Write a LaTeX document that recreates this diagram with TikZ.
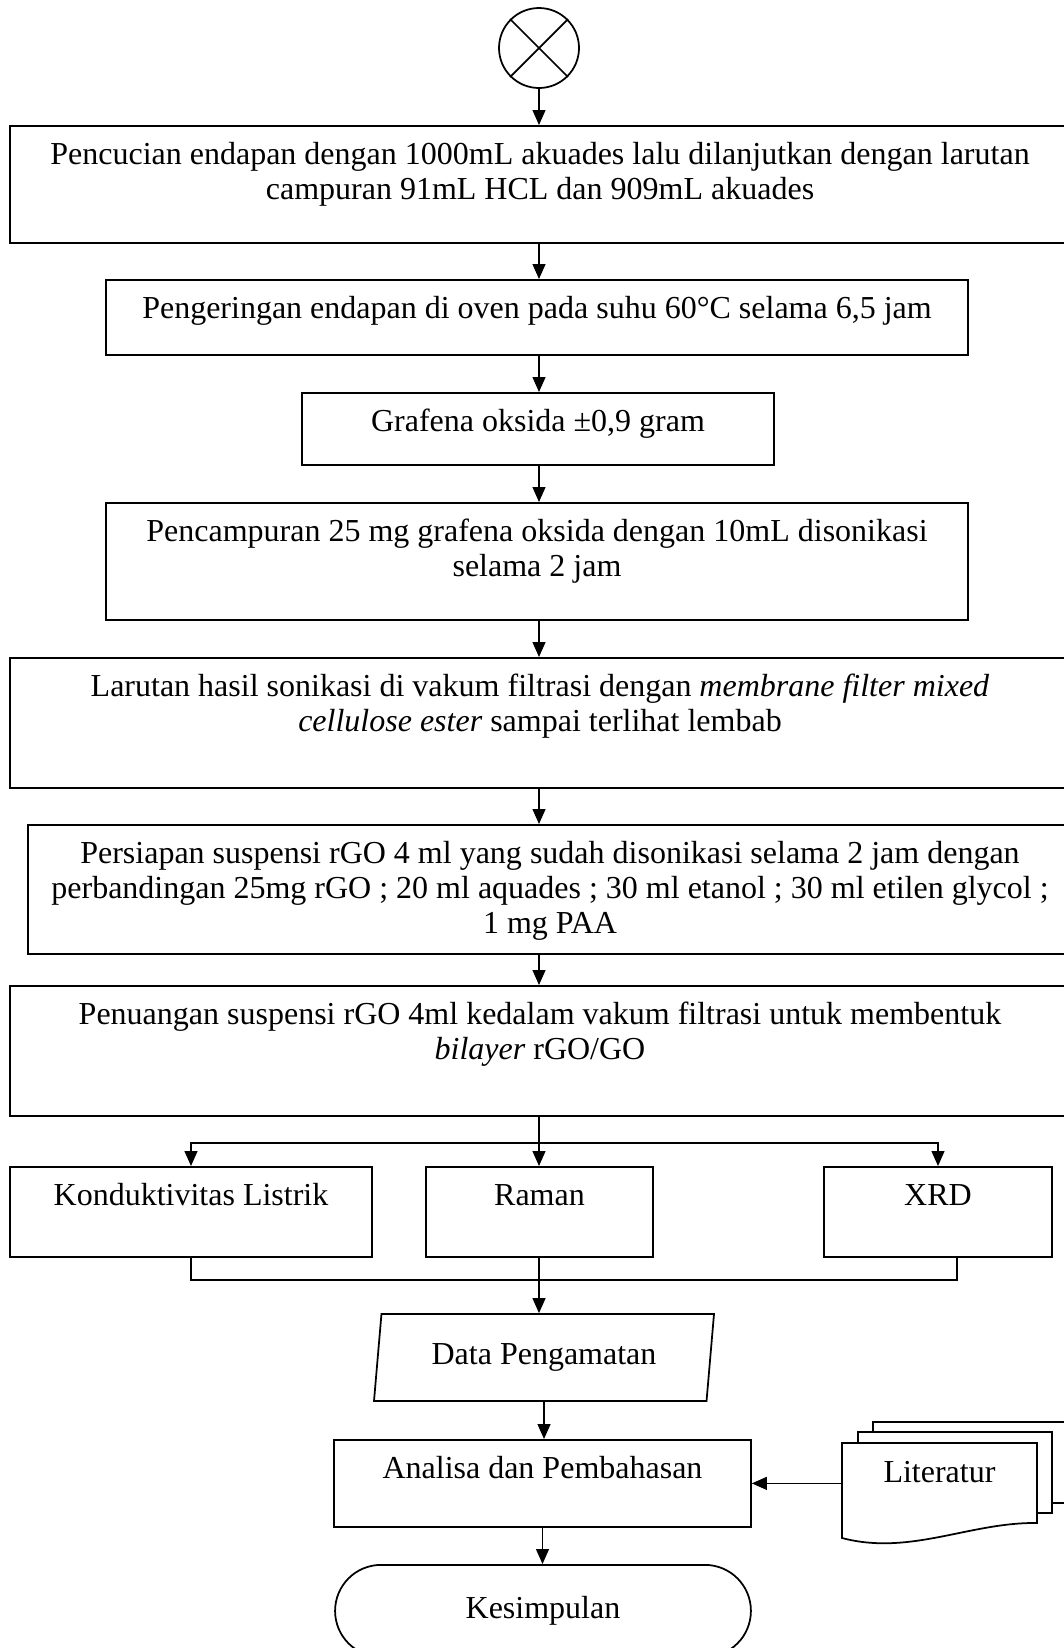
\documentclass[tikz,border=0pt]{standalone}
\usepackage{fontspec}
\setmainfont{Liberation Serif}
\usetikzlibrary{arrows.meta,shapes.geometric,shapes.misc}
\newdimen\unitpx \unitpx=0.4pt
\newcommand{\boxtext}[3]{\parbox[c][#2\unitpx][t]{#1\unitpx}{\centering\rule{0pt}{15.4pt}#3}}
\begin{document}
\begin{tikzpicture}[x=0.4pt,y=-0.4pt,line width=0.5pt,
	font=\fontsize{12.8}{14}\selectfont,
	stepbox/.style={draw,line width=0.7pt,inner sep=0pt,anchor=north},
	outline/.style={line width=0.7pt},
	>={Triangle[length=6pt,width=5.2pt]}]
	\useasboundingbox (0,0) rectangle (1064,1648);
	\node[draw,circle,outline,minimum size=32pt,inner sep=0pt] (start) at (539,48) {};
	\draw[outline] (start.north west) -- (start.south east);
	\draw[outline] (start.north east) -- (start.south west);
	\node[stepbox] (cuci) at (540,125) {\boxtext{1060}{117}{Pencucian endapan dengan 1000mL akuades lalu dilanjutkan dengan larutan\\campuran 91mL HCL dan 909mL akuades}};
	\node[stepbox] (kering) at (537,279) {\boxtext{862}{75}{Pengeringan endapan di oven pada suhu 60\textdegree C selama 6,5 jam}};
	\node[stepbox] (go) at (538,392) {\boxtext{472}{72}{Grafena oksida ±0,9 gram}};
	\node[stepbox] (campur) at (537,502) {\boxtext{862}{117}{Pencampuran 25 mg grafena oksida dengan 10mL disonikasi\\selama 2 jam}};
	\node[stepbox] (saring) at (540,657) {\boxtext{1060}{130}{Larutan hasil sonikasi di vakum filtrasi dengan \textit{membrane filter mixed}\\\textit{cellulose ester} sampai terlihat lembab}};
	\node[stepbox] (suspensi) at (550,824) {\boxtext{1044}{129}{Persiapan suspensi rGO 4 ml yang sudah disonikasi selama 2 jam dengan\\perbandingan 25mg rGO ; 20 ml aquades ; 30 ml etanol ; 30 ml etilen glycol ;\\1 mg PAA}};
	\node[stepbox] (tuang) at (540,985) {\boxtext{1060}{130}{Penuangan suspensi rGO 4ml kedalam vakum filtrasi untuk membentuk\\\textit{bilayer} rGO/GO}};
	\node[stepbox] (listrik) at (191,1166) {\boxtext{362}{90}{Konduktivitas Listrik}};
	\node[stepbox] (raman) at (539.5,1166) {\boxtext{227}{90}{Raman}};
	\node[stepbox] (xrd) at (938,1166) {\boxtext{228}{90}{XRD}};
	\node[draw,outline,trapezium,trapezium left angle=75,trapezium right angle=105,trapezium stretches body,minimum width=136pt,minimum height=34.8pt,inner sep=0pt] (data) at (544,1357.5) {Data Pengamatan};
	\node[stepbox] (analisa) at (542.5,1439) {\boxtext{417}{87}{Analisa dan Pembahasan}};
	\node[inner sep=0pt,anchor=north] (lit) at (939.5,1443) {\boxtext{195}{95}{Literatur}};
	\draw[outline] (1037,1523) .. controls (970,1522) and (910,1556) .. (842,1538) -- (842,1443) -- (1037,1443) -- cycle;
	\draw[outline] (858,1443) -- (858,1432) -- (1052,1432) -- (1052,1513) -- (1037,1513);
	\draw[outline] (873,1432) -- (873,1422) -- (1080,1422);
	\draw[outline] (1052,1503) -- (1080,1503);
	\node[draw,outline,rounded rectangle,minimum width=173pt,minimum height=36.8pt,anchor=north] (simpul) at (543,1564) {Kesimpulan};
	\coordinate (cabang) at (539,1143);
	\coordinate (gabung) at (539,1280);
	\draw[->] (start.south) -- (start.south |- cuci.north);
	\draw[->] (cuci.south -| start) -- (kering.north -| start);
	\draw[->] (kering.south -| start) -- (go.north -| start);
	\draw[->] (go.south -| start) -- (campur.north -| start);
	\draw[->] (campur.south -| start) -- (saring.north -| start);
	\draw[->] (saring.south -| start) -- (suspensi.north -| start);
	\draw[->] (suspensi.south -| start) -- (tuang.north -| start);
	\draw[->] (tuang.south -| start) -- (raman.north -| start);
	\draw[->] (cabang) -| (listrik.north);
	\draw[->] (cabang) -| (xrd.north);
	\draw (listrik.south) |- (gabung) -| ([xshift=7.6pt]xrd.south);
	\draw[->] (raman.south -| start) -- (data.north -| start);
	\draw[->] (data.south) -- (data.south |- analisa.north);
	\draw[->] (analisa.south) -- (analisa.south |- simpul.north);
	\draw[->] (lit.west |- analisa.east) -- (analisa.east);
\end{tikzpicture}
\end{document}
